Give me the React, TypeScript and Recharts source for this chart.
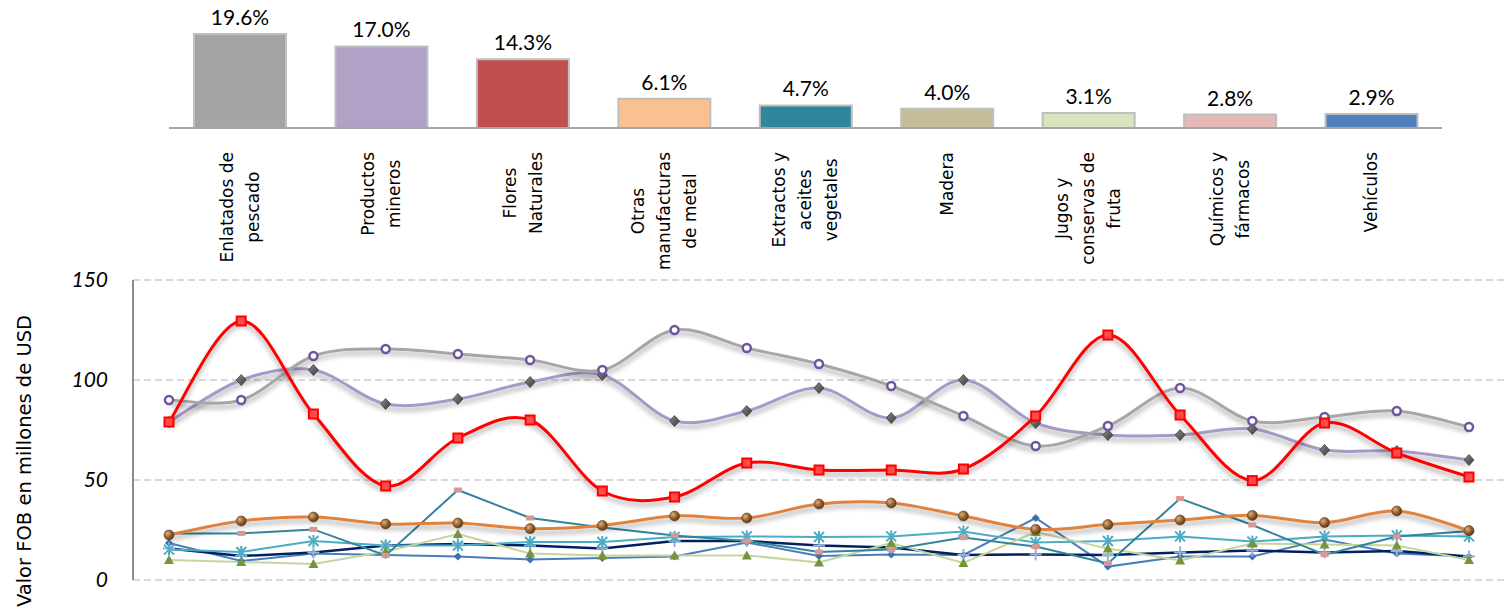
import React from 'react';
import { BarChart, Bar, XAxis, YAxis, LabelList, LineChart, Line, CartesianGrid, Cell } from 'recharts';

// ---- Top bar chart data ----
const categories = [
  'Enlatados de pescado', 'Productos mineros', 'Flores Naturales', 'Otras manufacturas de metal',
  'Extractos y aceites vegetales', 'Madera', 'Jugos y conservas de fruta', 'Químicos y fármacos', 'Vehículos',
];
const tickLines = [
  ['Enlatados de', 'pescado'], ['Productos', 'mineros'], ['Flores', 'Naturales'],
  ['Otras', 'manufacturas', 'de metal'], ['Extractos y', 'aceites', 'vegetales'], ['Madera'],
  ['Jugos y', 'conservas de', 'fruta'], ['Químicos y', 'fármacos'], ['Vehículos'],
];
const shares = [19.6, 17.0, 14.3, 6.1, 4.7, 4.0, 3.1, 2.8, 2.9];
const barColors = ['#a5a5a5', '#b2a1c7', '#c0504d', '#fac090', '#31859c', '#c4bd97', '#d7e4bd', '#e6b9b8', '#4f81bd'];

// ---- Bottom line chart data (valor FOB, millones de USD) ----
const periods = ['1', '2', '3', '4', '5', '6', '7', '8', '9', '10', '11', '12', '13', '14', '15', '16', '17', '18', '19'];
const enlatados = [90, 90, 112, 115.5, 113, 110, 105, 125, 116, 108, 97, 82, 67, 77, 96, 79.5, 81.5, 84.5, 76.5];
const mineros = [79, 100, 105, 88, 90.5, 99, 102.5, 79.5, 84.5, 96, 81, 100, 78.5, 72.5, 72.5, 75.5, 65, 64.5, 60];
const flores = [79, 129.5, 83, 47, 71, 80, 44.5, 41.5, 58.5, 55, 55, 55.5, 82, 122.5, 82.5, 49.7, 78.5, 63.5, 51.5];
const metal = [22.5, 29.5, 31.5, 28, 28.5, 25.7, 27.3, 32, 31, 38, 38.5, 32, 25.3, 27.7, 30, 32.3, 28.7, 34.5, 24.7];
const extractos = [23.3, 23.3, 25.3, 12.3, 45, 31, 26.3, 22.3, 19.5, 14, 15.3, 21.2, 16.7, 8.3, 40.7, 27.5, 12.7, 21.7, 24.5];
const jugos = [10, 9, 8, 14.2, 23, 13.2, 12.3, 12.3, 12.3, 8.8, 18.5, 8.5, 24, 15.7, 9.8, 18.2, 17.8, 17.2, 10];
const madera = [15.2, 14, 19.5, 17.2, 17.2, 19, 19, 21.5, 21.8, 21.5, 21.8, 24.2, 18.7, 19.5, 21.8, 19.2, 21.7, 22.3, 21.8];
const quimicos = [15.8, 12, 13.7, 17.2, 18, 17.2, 15.8, 19.5, 19.5, 17.2, 16.2, 12.5, 12.8, 12.5, 13.8, 14.7, 13.8, 14.5, 11.8];
const vehiculos = [18.5, 9.5, 13.3, 12.5, 11.8, 10.2, 11, 11.7, 18.8, 12, 12.8, 12.5, 31, 6.7, 11.7, 11.8, 20.3, 13.3, 11.7];
const yTicks = [0, 50, 100, 150];

const barData = categories.map((c, i) => ({ name: c, share: shares[i], idx: i }));
const lineData = periods.map((p, i) => ({
  p, enlatados: enlatados[i], mineros: mineros[i], flores: flores[i], metal: metal[i],
  extractos: extractos[i], jugos: jugos[i], madera: madera[i], quimicos: quimicos[i], vehiculos: vehiculos[i],
}));

// Excel-like smoothing (Catmull-Rom bezier)
function excelSmooth(context: any) {
  let pts: number[][] = [];
  return {
    areaStart() {}, areaEnd() {},
    lineStart() { pts = []; },
    point(x: number, y: number) { pts.push([+x, +y]); },
    lineEnd() {
      const n = pts.length;
      if (!n) return;
      context.moveTo(pts[0][0], pts[0][1]);
      const t = 1 / 6;
      for (let i = 0; i < n - 1; i++) {
        const p0 = pts[i - 1] || pts[i];
        const p1 = pts[i];
        const p2 = pts[i + 1];
        const p3 = pts[i + 2] || p2;
        context.bezierCurveTo(
          p1[0] + (p2[0] - p0[0]) * t, p1[1] + (p2[1] - p0[1]) * t,
          p2[0] - (p3[0] - p1[0]) * t, p2[1] - (p3[1] - p1[1]) * t,
          p2[0], p2[1]);
      }
    },
  };
}

let canvasCtx: any = null;
function measure(text: string, font: string) {
  if (!canvasCtx) canvasCtx = document.createElement('canvas').getContext('2d');
  canvasCtx.font = font;
  return canvasCtx.measureText(text).width;
}

const CatTick = (props: any) => {
  const { x, y, payload, index } = props;
  const lines = tickLines[index] || [String(payload.value)];
  const font = "17px 'DejaVu Sans'";
  const maxLen = Math.max(...lines.map((l) => measure(l, font)));
  const cy = y + 24 + maxLen / 2;
  const n = lines.length;
  return (
    <g>
      {lines.map((l, j) => {
        const lx = x + (j - (n - 1) / 2) * 26;
        return (
          <text key={j} x={lx} y={cy} transform={`rotate(-90 ${lx} ${cy})`} textAnchor="middle"
            dominantBaseline="central" fontFamily="'DejaVu Sans'" fontSize={17} fill="#000">{l}</text>
        );
      })}
    </g>
  );
};

const PctLabel = (p: any) => (
  <text x={p.x + p.width / 2} y={p.y - 9} textAnchor="middle" fontFamily="Lato" fontSize={21} fill="#000">
    {`${Number(p.value).toFixed(1)}%`}
  </text>
);

type DotKind = 'hollow' | 'darkDiamond' | 'redSquare' | 'sphere' | 'pinkDash' | 'triangle' | 'asterisk' | 'plus' | 'blueDiamond';
const makeDot = (kind: DotKind) => (props: any) => {
  const { cx, cy, index } = props;
  const k = `d${index}`;
  if (cx == null || cy == null) return <g key={k} />;
  switch (kind) {
    case 'hollow':
      return <circle key={k} cx={cx} cy={cy} r={4} fill="#fff" stroke="#6f55a0" strokeWidth={2.5} />;
    case 'darkDiamond':
      return <path key={k} d={`M${cx},${cy - 5.5}L${cx + 5},${cy}L${cx},${cy + 5.5}L${cx - 5},${cy}Z`} fill="url(#gDiamond)" stroke="#3f3f3f" strokeWidth={0.8} />;
    case 'redSquare':
      return <rect key={k} x={cx - 4.5} y={cy - 4.5} width={9} height={9} fill="#ff4d4d" stroke="#ff0000" strokeWidth={2} />;
    case 'sphere':
      return <circle key={k} cx={cx} cy={cy} r={5} fill="url(#gSphere)" stroke="#5c3a16" strokeWidth={0.6} />;
    case 'pinkDash':
      return <rect key={k} x={cx - 4} y={cy - 2.5} width={8} height={5} fill="#d99694" />;
    case 'triangle':
      return <path key={k} d={`M${cx},${cy - 5}L${cx + 5},${cy + 4}L${cx - 5},${cy + 4}Z`} fill="#77933c" />;
    case 'asterisk':
      return (
        <g key={k} stroke="#4bacc6" strokeWidth={2}>
          <line x1={cx - 5} y1={cy - 5} x2={cx + 5} y2={cy + 5} />
          <line x1={cx - 5} y1={cy + 5} x2={cx + 5} y2={cy - 5} />
          <line x1={cx} y1={cy - 6} x2={cx} y2={cy + 6} />
        </g>
      );
    case 'plus':
      return (
        <g key={k} stroke="#95b3d7" strokeWidth={2}>
          <line x1={cx - 6} y1={cy} x2={cx + 6} y2={cy} />
          <line x1={cx} y1={cy - 6} x2={cx} y2={cy + 6} />
        </g>
      );
    case 'blueDiamond':
    default:
      return <path key={k} d={`M${cx},${cy - 4}L${cx + 4},${cy}L${cx},${cy + 4}L${cx - 4},${cy}Z`} fill="#3f6fb0" />;
  }
};

const seriesDefs: { key: string; color: string; width: number; dot: DotKind; smooth: boolean }[] = [
  { key: 'vehiculos', color: '#4a7ebb', width: 2, dot: 'blueDiamond', smooth: false },
  { key: 'quimicos', color: '#002060', width: 2.5, dot: 'plus', smooth: false },
  { key: 'madera', color: '#4bacc6', width: 2, dot: 'asterisk', smooth: false },
  { key: 'jugos', color: '#c3d69b', width: 2, dot: 'triangle', smooth: false },
  { key: 'extractos', color: '#31849b', width: 2, dot: 'pinkDash', smooth: false },
  { key: 'metal', color: '#e0823d', width: 3, dot: 'sphere', smooth: true },
  { key: 'mineros', color: '#a699c6', width: 3, dot: 'darkDiamond', smooth: true },
  { key: 'enlatados', color: '#a6a6a6', width: 3, dot: 'hollow', smooth: true },
  { key: 'flores', color: '#ff0000', width: 3, dot: 'redSquare', smooth: true },
];

export default function App() {
  return (
    <div style={{ position: 'absolute', left: 0, top: 0, width: 1507, height: 609, background: '#fff', overflow: 'hidden' }}>
      <style>{`.shadow-line { filter: url(#lineShadow); }`}</style>
      <svg width={0} height={0} style={{ position: 'absolute' }}>
        <defs>
          <filter id="lineShadow" filterUnits="userSpaceOnUse" x={0} y={0} width={1507} height={609}>
            <feDropShadow dx={0} dy={4} stdDeviation={2.5} floodColor="#000" floodOpacity={0.35} />
          </filter>
          <radialGradient id="gSphere" cx="35%" cy="35%" r="70%">
            <stop offset="0%" stopColor="#e0b080" />
            <stop offset="60%" stopColor="#8c5a2b" />
            <stop offset="100%" stopColor="#5c3a16" />
          </radialGradient>
          <linearGradient id="gDiamond" x1="0" y1="0" x2="1" y2="1">
            <stop offset="0%" stopColor="#8c8c8c" />
            <stop offset="100%" stopColor="#3a3a3a" />
          </linearGradient>
        </defs>
      </svg>

      {/* Top: share bars */}
      <div style={{ position: 'absolute', left: 0, top: 0 }}>
        <BarChart width={1507} height={272} data={barData} margin={{ top: 32, right: 65, left: 169, bottom: 4 }}>
          <XAxis dataKey="name" interval={0} height={140} tickLine={false} tickSize={0} tickMargin={0}
            axisLine={{ stroke: '#a6a6a6', strokeWidth: 2 }} tick={<CatTick />} />
          <YAxis hide domain={[0, 20]} />
          <Bar dataKey="share" barSize={92} stroke="#bfbfbf" strokeWidth={2} isAnimationActive={false}>
            {barData.map((d) => <Cell key={d.idx} fill={barColors[d.idx]} />)}
            <LabelList dataKey="share" content={PctLabel} />
          </Bar>
        </BarChart>
      </div>

      {/* Bottom: monthly FOB lines */}
      <div style={{ position: 'absolute', left: 0, top: 0 }}>
        <LineChart width={1507} height={609} data={lineData} margin={{ top: 280, right: 2, left: 0, bottom: 29 }}>
          <CartesianGrid vertical={false} stroke="#d9d9d9" strokeWidth={2} strokeDasharray="7 4" />
          <XAxis dataKey="p" hide padding={{ left: 36, right: 36 }} />
          <YAxis width={133} domain={[0, 150]} ticks={yTicks} tickLine={false} tickSize={0} tickMargin={25}
            axisLine={{ stroke: '#8c8c8c', strokeWidth: 2 }}
            tick={{ fill: '#000', fontSize: 21, fontStyle: 'italic', fontFamily: 'Lato' }} />
          {seriesDefs.map((s) => (
            <Line key={s.key} dataKey={s.key} type={s.smooth ? (excelSmooth as any) : 'linear'}
              stroke={s.color} strokeWidth={s.width} dot={makeDot(s.dot)} activeDot={false}
              className={s.smooth ? 'shadow-line' : undefined} isAnimationActive={false} />
          ))}
        </LineChart>
      </div>

      <svg width={60} height={609} style={{ position: 'absolute', left: 0, top: 0 }}>
        <text x={24} y={461} transform="rotate(-90 24 461)" textAnchor="middle" dominantBaseline="central"
          fontFamily="'DejaVu Sans'" fontSize={19.5} fill="#000">Valor FOB en millones  de USD</text>
      </svg>
    </div>
  );
}
